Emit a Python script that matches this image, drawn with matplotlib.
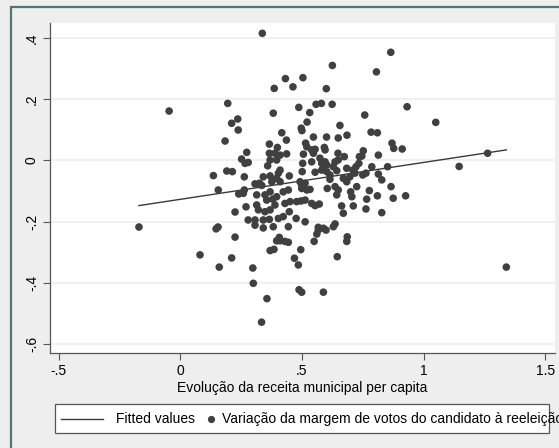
import matplotlib
matplotlib.use('Agg')
from matplotlib import pyplot as plt
from matplotlib.patches import Rectangle
from matplotlib.lines import Line2D

plt.rcParams['font.family'] = ['Liberation Sans', 'DejaVu Sans']

# receita (x) e margem de votos (y)
receita = [-0.170, -0.046, 0.337, 0.865, 0.625, 0.806, 0.432, 0.504, 0.463, 0.600,
           0.386, 0.195, 0.487, 0.558, 0.580, 0.624, 0.932, 0.532, 0.382, 0.758,
           0.236, 0.211, 0.521, 1.050, 0.656, 0.497, 0.500, 0.238, 0.417, 0.784,
           0.810, 0.685, 0.547, 0.601, 0.649, 0.184, 0.436, 0.515, 0.520, 0.366,
           0.870, 0.877, 0.912, 0.399, 0.554, 0.540, 0.592, 0.595, 0.752, 0.746,
           0.273, 0.366, 0.389, 0.437, 0.506, 0.547, 0.648, 0.674, 0.814, 0.736,
           0.410, 0.252, 0.266, 0.279, 0.396, 0.359, 0.574, 0.581, 0.595, 0.602,
           0.540, 0.503, 0.636, 0.649, 0.734, 0.722, 0.787, 0.852, 1.146, 1.263,
           0.369, 0.629, 0.581, 0.136, 0.191, 0.214, 0.263, 0.341, 0.369, 0.403,
           0.410, 0.448, 0.501, 0.554, 0.588, 0.602, 0.615, 0.643, 0.684, 0.709,
           0.718, 0.750, 0.763, 0.814, 0.828, 0.670, 0.684, 0.615, 0.492, 0.513,
           0.410, 0.376, 0.396, 0.307, 0.325, 0.335, 0.156, 0.263, 0.259, 0.240,
           0.314, 0.348, 0.380, 0.396, 0.369, 0.423, 0.444, 0.499, 0.520, 0.499,
           0.533, 0.604, 0.636, 0.649, 0.643, 0.700, 0.705, 0.725, 0.777, 0.810,
           0.866, 0.875, 0.926, 0.766, 0.270, 0.314, 0.321, 0.355, 0.369, 0.389,
           0.225, 0.430, 0.451, 0.478, 0.496, 0.513, 0.540, 0.554, 0.571, 0.711,
           0.763, 0.828, 0.670, 0.663, 0.448, 0.476, 0.513, 0.636, 0.279, 0.307,
           0.341, 0.366, 0.403, 0.423, 0.382, 0.444, 0.567, 0.588, 0.629, 0.147,
           0.155, 0.307, 0.341, 0.561, 0.550, 0.686, 0.684, 0.645, 0.495, 0.469,
           0.485, 0.488, 0.499, 0.588, 0.430, 0.410, 0.444, 0.407, 0.385, 0.369,
           0.567, 0.599, 0.225, 0.081, 0.160, 0.211, 0.298, 0.300, 0.356, 0.334,
           0.396, 1.340, 0.348, 0.697]
margem = [-0.218, 0.161, 0.415, 0.353, 0.310, 0.289, 0.267, 0.270, 0.240, 0.234,
          0.235, 0.186, 0.173, 0.183, 0.186, 0.183, 0.175, 0.156, 0.154, 0.148,
          0.135, 0.121, 0.125, 0.124, 0.114, 0.105, 0.097, 0.099, 0.090, 0.092,
          0.090, 0.082, 0.076, 0.076, 0.073, 0.063, 0.066, 0.056, 0.044, 0.053,
          0.056, 0.039, 0.037, 0.042, 0.036, 0.034, 0.042, 0.034, 0.031, 0.014,
          0.026, 0.023, 0.023, 0.021, 0.020, 0.023, 0.023, 0.012, 0.017, 0.012,
          0.017, 0.004, -0.010, -0.007, 0.001, -0.018, 0.007, -0.010, -0.005, -0.015,
          -0.005, -0.010, -0.005, 0.001, -0.010, -0.021, -0.021, -0.021, -0.020, 0.023,
          0.001, -0.021, -0.032, -0.050, -0.035, -0.037, -0.054, -0.054, -0.051, -0.042,
          -0.032, -0.051, -0.037, -0.039, -0.026, -0.037, -0.048, -0.034, -0.026, -0.032,
          -0.042, -0.048, -0.042, -0.045, -0.064, -0.059, -0.070, -0.062, -0.070, -0.075,
          -0.070, -0.070, -0.059, -0.077, -0.075, -0.082, -0.097, -0.097, -0.108, -0.110,
          -0.113, -0.113, -0.127, -0.119, -0.103, -0.103, -0.097, -0.092, -0.097, -0.081,
          -0.095, -0.092, -0.086, -0.097, -0.113, -0.103, -0.119, -0.086, -0.099, -0.116,
          -0.086, -0.124, -0.116, -0.127, -0.152, -0.146, -0.162, -0.130, -0.162, -0.146,
          -0.169, -0.141, -0.135, -0.135, -0.133, -0.130, -0.141, -0.148, -0.143, -0.149,
          -0.159, -0.171, -0.173, -0.149, -0.168, -0.190, -0.201, -0.208, -0.195, -0.195,
          -0.195, -0.193, -0.190, -0.184, -0.217, -0.217, -0.219, -0.222, -0.217, -0.224,
          -0.218, -0.212, -0.221, -0.241, -0.265, -0.250, -0.265, -0.315, -0.292, -0.320,
          -0.342, -0.423, -0.431, -0.431, -0.265, -0.263, -0.268, -0.252, -0.291, -0.295,
          -0.228, -0.228, -0.251, -0.309, -0.349, -0.319, -0.352, -0.402, -0.452, -0.529,
          -0.263, -0.349, -0.168, -0.054]

fit_x = [-0.170, 1.340]
fit_y = [-0.148, 0.034]

x_ticks = [-0.5, 0, 0.5, 1, 1.5]
x_tick_labels = ['-.5', '0', '.5', '1', '1.5']
y_ticks = [-0.6, -0.4, -0.2, 0, 0.2, 0.4]
y_tick_labels = ['-.6', '-.4', '-.2', '0', '.2', '.4']

x_title = 'Evolução da receita municipal per capita'
leg_fit = 'Fitted values'
leg_pts = 'Variação da margem de votos do candidato à reeleição'

W, H = 559, 448
fig = plt.figure(figsize=(W / 100, H / 100), dpi=100)
fig.patch.set_facecolor('#eeeeee')

# moldura externa (cortada a direita e embaixo)
fig.patches.append(Rectangle((11 / W, -0.1), 1.2, (H - 7) / H + 0.1,
                             transform=fig.transFigure, fill=False,
                             edgecolor='#4d7676', linewidth=1.6))

ax = fig.add_axes([50 / W, (H - 353) / H, 505 / W, 330 / H])
ax.set_facecolor('white')
ax.set_xlim(-0.5356, 1.540)
ax.set_ylim(-0.6297, 0.4487)

for yt in y_ticks:
    ax.axhline(yt, color='#eeeeee', linewidth=1.2, zorder=0)

ax.plot(fit_x, fit_y, color='#3a3a3a', linewidth=1.0, zorder=2)
ax.scatter(receita, margem, s=30, color='#404040', edgecolors='none', zorder=3)

for side in ['top', 'right']:
    ax.spines[side].set_visible(False)
for side in ['left', 'bottom']:
    ax.spines[side].set_color('#555555')
    ax.spines[side].set_linewidth(0.9)

ax.set_xticks(x_ticks)
ax.set_xticklabels(x_tick_labels)
ax.set_yticks(y_ticks)
ax.set_yticklabels(y_tick_labels, rotation=90, va='center')
ax.tick_params(axis='both', direction='out', length=5, width=0.8,
               color='#555555', labelsize=10, labelcolor='black', pad=3)
ax.set_xlabel(x_title, fontsize=10, labelpad=2)

# legenda desenhada a mao, como no Stata
fig.patches.append(Rectangle((55 / W, (H - 433) / H), 494 / W, 29 / H,
                             transform=fig.transFigure, facecolor='white',
                             edgecolor='#555555', linewidth=0.9))
ly = (H - 419) / H
fig.lines.append(Line2D([61 / W, 103 / W], [ly, ly], transform=fig.transFigure,
                        color='#3a3a3a', linewidth=1.0))
fig.text(116 / W, ly, leg_fit, fontsize=10, va='center', ha='left')
fig.lines.append(Line2D([211 / W], [ly], transform=fig.transFigure, marker='o',
                        markersize=5.2, color='#404040', markeredgewidth=0,
                        linestyle='none'))
fig.text(222 / W, ly, leg_pts, fontsize=10, va='center', ha='left')

fig.savefig('out.png', dpi=100, facecolor=fig.get_facecolor())
